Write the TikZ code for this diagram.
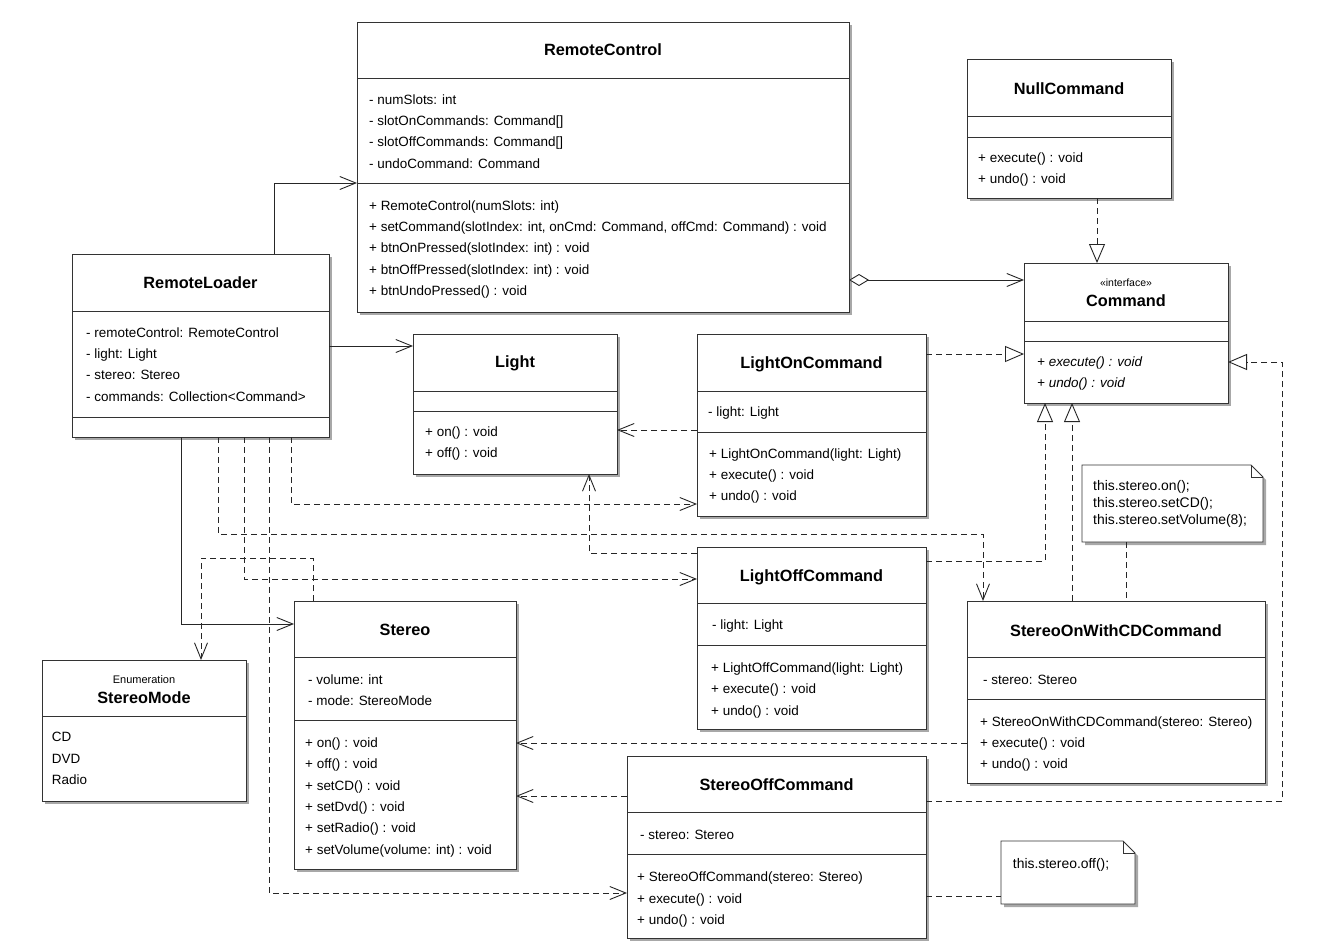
\documentclass[tikz,border=0pt]{standalone}
\usepackage{fontspec}
\setmainfont{Liberation Sans}
\usetikzlibrary{arrows.meta,fit,shadows}

\tikzset{
  umlline/.style={draw=black!80, line width=0.9pt},
  shade3/.style={drop shadow={shadow xshift=3pt, shadow yshift=-3pt, fill=black!40, opacity=0.85}},
  classbox/.style={umlline, fill=white, inner sep=0pt, outer sep=0pt, shade3},
  clsname/.style={font=\fontsize{16.3}{19}\selectfont\bfseries, anchor=base, inner sep=0pt},
  stereotype/.style={font=\fontsize{10.5}{12}\selectfont, anchor=base, inner sep=0pt},
  % multi-line member lists are anchored at the baseline of their last line
  members/.style={font=\fontsize{13.45}{21.4}\selectfont, anchor=base west, align=left, inner sep=0pt},
  notetext/.style={font=\fontsize{13.9}{17}\selectfont, anchor=base west, align=left, inner sep=0pt},
  conn/.style={draw=black!85, line width=0.9pt},
  dashedline/.style={dash pattern=on 6pt off 4pt},
  assoc/.style={conn, -{Straight Barb[length=16pt,width=13pt]}},
  dep/.style={assoc, dashedline},
  real/.style={conn, dashedline, -{Triangle[open,length=19pt,width=16pt,fill=white]}},
  aggr/.style={conn, {Diamond[open,length=20pt,width=12pt,fill=white]}-{Straight Barb[length=16pt,width=13pt]}},
  notelink/.style={conn, dashedline}
}

% horizontal compartment separator across a class box
\newcommand\compsep[2]{\draw[umlline] (#1.west |- 0,#2) -- (#1.east |- 0,#2);}

\begin{document}
\begin{tikzpicture}[x=1pt,y=-1pt]
\fill[white] (0,0) rectangle (1328,950);
\useasboundingbox (0,0) rectangle (1328,950);

% ---------- RemoteControl ----------
\node[classbox, fit={(357,22) (849,312)}] (rc) {};
\compsep{rc}{78}\compsep{rc}{183}
\node[clsname] (rc-t) at (603,56) {RemoteControl};
\node[members] (rc-a) at (369,168.2) {- numSlots: int\\- slotOnCommands: Command[]\\- slotOffCommands: Command[]\\- undoCommand: Command};
\node[members] (rc-m) at (369,295.6) {+ RemoteControl(numSlots: int)\\+ setCommand(slotIndex: int, onCmd: Command, offCmd: Command) : void\\+ btnOnPressed(slotIndex: int) : void\\+ btnOffPressed(slotIndex: int) : void\\+ btnUndoPressed() : void};

% ---------- RemoteLoader ----------
\node[classbox, fit={(72,254) (329,437)}] (rl) {};
\compsep{rl}{311}\compsep{rl}{417}
\node[clsname] (rl-t) at (200.5,288) {RemoteLoader};
\node[members] (rl-a) at (86,401.2) {- remoteControl: RemoteControl\\- light: Light\\- stereo: Stereo\\- commands: Collection<Command>};

% ---------- Light ----------
\node[classbox, fit={(413,334) (617,474)}] (light) {};
\compsep{light}{391}\compsep{light}{411}
\node[clsname] (light-t) at (515,367) {Light};
\node[members] (light-m) at (425,457.9) {+ on() : void\\+ off() : void};

% ---------- LightOnCommand ----------
\node[classbox, fit={(697,334) (926,516)}] (lon) {};
\compsep{lon}{391}\compsep{lon}{432}
\node[clsname] (lon-t) at (811.5,368) {LightOnCommand};
\node[members] (lon-a) at (708,416) {- light: Light};
\node[members] (lon-m) at (709,500.8) {+ LightOnCommand(light: Light)\\+ execute() : void\\+ undo() : void};

% ---------- LightOffCommand ----------
\node[classbox, fit={(697,547) (926,729)}] (loff) {};
\compsep{loff}{603}\compsep{loff}{645}
\node[clsname] (loff-t) at (811.5,581.5) {LightOffCommand};
\node[members] (loff-a) at (712,629) {- light: Light};
\node[members] (loff-m) at (711,715.3) {+ LightOffCommand(light: Light)\\+ execute() : void\\+ undo() : void};

% ---------- NullCommand ----------
\node[classbox, fit={(967,59) (1171,198)}] (null) {};
\compsep{null}{116}\compsep{null}{137}
\node[clsname] (null-t) at (1069,94) {NullCommand};
\node[members] (null-m) at (978,183.9) {+ execute() : void\\+ undo() : void};

% ---------- Command (interface) ----------
\node[classbox, fit={(1024,263) (1228,403)}] (cmd) {};
\compsep{cmd}{321}\compsep{cmd}{341}
\node[stereotype] (cmd-s) at (1126,286) {«interface»};
\node[clsname] (cmd-t) at (1126,306) {Command};
\node[members, font=\fontsize{13.45}{21.4}\selectfont\itshape] (cmd-m) at (1037,387.9) {+ execute() : void\\+ undo() : void};

% ---------- StereoOnWithCDCommand ----------
\node[classbox, fit={(967,601) (1265,783)}] (son) {};
\compsep{son}{657}\compsep{son}{699}
\node[clsname] (son-t) at (1116,636) {StereoOnWithCDCommand};
\node[members] (son-a) at (983,684) {- stereo: Stereo};
\node[members] (son-m) at (980,768.8) {+ StereoOnWithCDCommand(stereo: Stereo)\\+ execute() : void\\+ undo() : void};

% ---------- Stereo ----------
\node[classbox, fit={(294,601) (516,869)}] (stereo) {};
\compsep{stereo}{657}\compsep{stereo}{720}
\node[clsname] (stereo-t) at (405,635) {Stereo};
\node[members] (stereo-a) at (308,705.4) {- volume: int\\- mode: StereoMode};
\node[members] (stereo-m) at (305,854.3) {+ on() : void\\+ off() : void\\+ setCD() : void\\+ setDvd() : void\\+ setRadio() : void\\+ setVolume(volume: int) : void};

% ---------- StereoMode (enumeration) ----------
\node[classbox, fit={(42,660) (246,801)}] (mode) {};
\compsep{mode}{716}
\node[stereotype, font=\fontsize{11}{12}\selectfont] (mode-s) at (144,683) {Enumeration};
\node[clsname] (mode-t) at (144,703) {StereoMode};
\node[members] (mode-l) at (51.7,784.5) {CD\\DVD\\Radio};

% ---------- StereoOffCommand ----------
\node[classbox, fit={(627,756) (926,938)}] (soff) {};
\compsep{soff}{812}\compsep{soff}{854}
\node[clsname] (soff-t) at (776.5,790) {StereoOffCommand};
\node[members] (soff-a) at (640,839) {- stereo: Stereo};
\node[members] (soff-m) at (637,924.5) {+ StereoOffCommand(stereo: Stereo)\\+ execute() : void\\+ undo() : void};

% ---------- notes ----------
\node[inner sep=0pt, outer sep=0pt, fit={(1082,465) (1263,542)}] (note1) {};
\draw[umlline, fill=white, shade3] (note1.north west) -- ([xshift=-12pt]note1.north east)
  -- ([yshift=-12pt]note1.north east) -- (note1.south east) -- (note1.south west) -- cycle;
\draw[umlline] ([xshift=-12pt]note1.north east) -- ([xshift=-12pt,yshift=-12pt]note1.north east) -- ([yshift=-12pt]note1.north east);
\node[notetext] (note1-t) at (1093,524.5) {this.stereo.on();\\this.stereo.setCD();\\this.stereo.setVolume(8);};

\node[inner sep=0pt, outer sep=0pt, fit={(1001,841) (1135,904)}] (note2) {};
\draw[umlline, fill=white, shade3] (note2.north west) -- ([xshift=-12pt]note2.north east)
  -- ([yshift=-12pt]note2.north east) -- (note2.south east) -- (note2.south west) -- cycle;
\draw[umlline] ([xshift=-12pt]note2.north east) -- ([xshift=-12pt,yshift=-12pt]note2.north east) -- ([yshift=-12pt]note2.north east);
\node[notetext] (note2-t) at (1012.7,868) {this.stereo.off();};

% ---------- associations ----------
\draw[assoc] (rl.north -| 274,0) |- (rc.west |- 0,183);
\draw[assoc] (rl.east |- 0,346) -- (light.west |- 0,346);
\draw[assoc] (rl.south -| 181,0) |- (stereo.west |- 0,624);
\draw[aggr] (rc.east |- 0,280) -- (cmd.west |- 0,280);

% ---------- realizations of Command ----------
\draw[real] (null.south -| 1097,0) -- (cmd.north -| 1097,0);
\draw[real] (lon.east |- 0,354) -- (cmd.west |- 0,354);
\draw[real] (son.north -| 1072,0) -- (cmd.south -| 1072,0);
\draw[real] (loff.east |- 0,561) -| (cmd.south -| 1045,0);
\draw[real] (soff.east |- 0,801) -| (1282,362) -- (cmd.east |- 0,362);

% ---------- dependencies ----------
\draw[dep] (lon.west |- 0,430) -- (light.east |- 0,430);
\draw[dep] (loff.west |- 0,553) -| (light.south -| 589,0);
\draw[dep] (son.west |- 0,743) -- (stereo.east |- 0,743);
\draw[dep] (soff.west |- 0,796) -- (stereo.east |- 0,796);
\draw[dep] (stereo.north -| 313,0) |- (201,558) -- (mode.north -| 201,0);
\draw[dep] (rl.south -| 291,0) |- (lon.west |- 0,504);
\draw[dep] (rl.south -| 218,0) |- (983,534) -- (son.north -| 983,0);
\draw[dep] (rl.south -| 244,0) |- (loff.west |- 0,579);
\draw[dep] (rl.south -| 269,0) |- (soff.west |- 0,893);

% ---------- note anchors ----------
\draw[notelink] (note1.south -| 1126,0) -- (son.north -| 1126,0);
\draw[notelink] (soff.east |- 0,896) -- (note2.west |- 0,896);
\end{tikzpicture}
\end{document}
